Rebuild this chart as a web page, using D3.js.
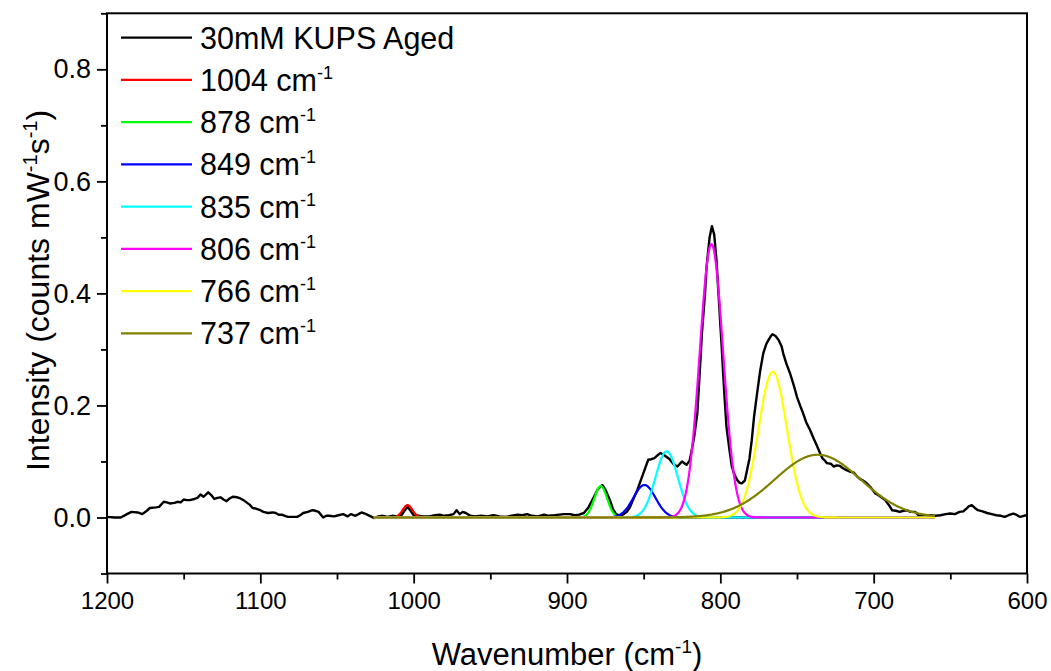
<!DOCTYPE html>
<html>
<head>
<meta charset="utf-8">
<script src="https://cdn.jsdelivr.net/npm/d3@7/dist/d3.min.js"></script>
<style>
  html, body { margin: 0; padding: 0; background: #fff; }
  svg text { font-family: "Liberation Sans", Arial, sans-serif; fill: #000; }
</style>
</head>
<body>
<svg id="chart" width="1051" height="671"></svg>
<script>
// Measured Raman spectrum: wavenumber (cm-1) and intensity (counts mW-1 s-1)
const specWn = [
  1200, 1195, 1191, 1187, 1184, 1180, 1177, 1174, 1172, 1168, 1166, 1163, 1161, 1159, 1156, 1154,
  1152, 1150, 1148, 1146, 1143, 1141, 1139, 1137, 1134, 1132, 1130, 1128, 1126, 1124, 1122, 1120,
  1118, 1115, 1113, 1111, 1109, 1107, 1105, 1103, 1100, 1098, 1095, 1092, 1090, 1088, 1086, 1084,
  1082, 1079, 1076, 1074, 1072, 1069, 1066, 1064, 1062, 1059, 1057, 1055, 1052, 1049, 1046, 1043,
  1041, 1038, 1036, 1034, 1031, 1028, 1026, 1023, 1020, 1017, 1014, 1011, 1008, 1006, 1004, 1002,
  1000, 997, 994, 990, 986, 983, 980, 977, 974, 972, 970, 968, 966, 963, 960, 956,
  952, 948, 944, 940, 936, 932, 929, 926, 923, 919, 915, 912, 908, 905, 902, 898,
  895, 892, 889, 886, 883, 880, 877, 875, 872, 870, 868, 865, 863, 861, 859, 857,
  854, 851, 849, 847, 845, 843, 841, 839, 837, 835, 833, 832, 830, 828, 826, 825,
  823, 822, 820, 819, 817, 815, 813, 812, 810, 809, 807, 805.5, 804, 802.5, 801, 799,
  797.5, 796, 794, 792.5, 791, 789, 787.5, 786, 784, 783, 781, 779.5, 778, 776, 774, 772,
  770, 768.5, 767, 766, 764, 762, 760, 759, 757, 754.5, 752, 750, 748, 746, 744, 741.5,
  739, 737, 735, 733.5, 732, 730.5, 728, 726, 724, 722, 720, 718, 715.5, 713, 711, 709,
  707, 704.5, 702, 699, 697, 695, 692.5, 690, 688, 685.5, 683, 680.5, 678.5, 676, 673, 670,
  667, 663, 660, 656.5, 653, 650, 647, 644, 641.5, 639.5, 638, 636, 634, 632, 629, 626,
  623, 620, 617, 614.5, 612, 609, 607, 604.5, 602, 600
];
const specI = [
  0.001, 0.000, 0.000, 0.006, 0.010, 0.009, 0.006, 0.012, 0.017, 0.018, 0.019, 0.028, 0.027, 0.025, 0.026, 0.028,
  0.027, 0.032, 0.031, 0.031, 0.033, 0.035, 0.041, 0.037, 0.045, 0.040, 0.033, 0.035, 0.036, 0.032, 0.029, 0.034,
  0.037, 0.036, 0.034, 0.031, 0.027, 0.023, 0.017, 0.016, 0.013, 0.010, 0.008, 0.009, 0.008, 0.005, 0.005, 0.003,
  0.001, 0.001, 0.001, 0.004, 0.008, 0.010, 0.013, 0.012, 0.010, 0.000, 0.003, 0.003, 0.002, 0.004, 0.006, 0.002,
  0.006, 0.003, 0.006, 0.009, 0.006, 0.002, -0.001, 0.002, 0.003, 0.001, 0.003, 0.002, 0.004, 0.012, 0.019, 0.012,
  0.004, 0.003, 0.002, 0.002, 0.004, 0.005, 0.003, 0.004, 0.006, 0.013, 0.006, 0.010, 0.008, 0.003, 0.002, 0.003,
  0.002, 0.004, 0.002, 0.001, 0.003, 0.005, 0.004, 0.006, 0.003, 0.002, 0.005, 0.003, 0.004, 0.005, 0.006, 0.006,
  0.004, 0.005, 0.008, 0.018, 0.034, 0.050, 0.058, 0.050, 0.031, 0.015, 0.006, 0.003, 0.006, 0.010, 0.018, 0.031,
  0.050, 0.073, 0.088, 0.103, 0.104, 0.106, 0.111, 0.115, 0.112, 0.108, 0.104, 0.100, 0.094, 0.091, 0.097, 0.100,
  0.096, 0.094, 0.102, 0.115, 0.145, 0.186, 0.280, 0.329, 0.400, 0.447, 0.500, 0.520, 0.505, 0.459, 0.390, 0.299,
  0.225, 0.162, 0.120, 0.091, 0.078, 0.067, 0.062, 0.061, 0.066, 0.079, 0.105, 0.138, 0.180, 0.222, 0.262, 0.293,
  0.310, 0.317, 0.324, 0.327, 0.324, 0.317, 0.305, 0.293, 0.275, 0.257, 0.235, 0.215, 0.200, 0.186, 0.170, 0.156,
  0.140, 0.128, 0.115, 0.106, 0.102, 0.097, 0.096, 0.091, 0.093, 0.092, 0.088, 0.085, 0.082, 0.080, 0.074, 0.069,
  0.066, 0.061, 0.054, 0.043, 0.040, 0.036, 0.031, 0.022, 0.013, 0.012, 0.010, 0.012, 0.013, 0.010, 0.010, 0.002,
  0.003, 0.004, 0.003, 0.004, 0.006, 0.007, 0.006, 0.010, 0.011, 0.016, 0.020, 0.022, 0.017, 0.013, 0.011, 0.008,
  0.006, 0.004, 0.003, 0.001, 0.004, 0.007, 0.005, 0.001, 0.003, 0.004
];

// Fitted Gaussian components: centre (cm-1), peak height, standard deviation (cm-1)
const peakCentres = [1004, 878, 849.5, 835, 805.8, 765.8, 736.5];
const peakHeights = [0.022, 0.056, 0.058, 0.118, 0.488, 0.260, 0.112];
const peakWidths  = [3.2, 4.2, 7.2, 7.3, 7.6, 9.3, 28];
const peakLabels  = ["1004", "878", "849", "835", "806", "766", "737"];
const peakColors  = ["#ff0000", "#00ff00", "#0000ff", "#00ffff", "#ff00ff", "#ffff00", "#808000"];
const fitRange = [1026, 660];

const seriesName = "30mM KUPS Aged";
const xTicks = [1200, 1100, 1000, 900, 800, 700, 600];
const yTicks = [0.0, 0.2, 0.4, 0.6, 0.8];

const svg = d3.select("#chart");
const plotL = 107, plotR = 1027, plotT = 13.3, plotB = 573.5;

const x = d3.scaleLinear().domain([1200, 600]).range([plotL, plotR]);
const y = d3.scaleLinear().domain([-0.1, 0.9]).range([plotB, plotT]);

const plot = svg.append("g");
plot.append("clipPath").attr("id", "clip")
  .append("rect").attr("x", plotL).attr("y", plotT).attr("width", plotR - plotL).attr("height", plotB - plotT);

const line = d3.line().x(d => x(d[0])).y(d => y(d[1]));

// measured spectrum
const spec = specWn.map((w, i) => [w, specI[i]]);
plot.append("path").datum(spec)
  .attr("clip-path", "url(#clip)")
  .attr("fill", "none").attr("stroke", "#000").attr("stroke-width", 2.4)
  .attr("stroke-linejoin", "round")
  .attr("d", line);

// fitted components sampled across the fit window
const fitWn = d3.range(fitRange[0], fitRange[1] - 0.01, -0.5);
peakCentres.forEach((c, k) => {
  const pts = fitWn.map(w => [w, peakHeights[k] * Math.exp(-0.5 * Math.pow((w - c) / peakWidths[k], 2))]);
  plot.append("path").datum(pts)
    .attr("fill", "none").attr("stroke", peakColors[k]).attr("stroke-width", 2.2)
    .attr("stroke-linejoin", "round")
    .attr("d", line);
});

// axes
const xAxis = d3.axisBottom(x).tickValues(xTicks).tickFormat(d3.format("d")).tickSize(10).tickPadding(8);
const xMinor = d3.axisBottom(x).tickValues(d3.range(1150, 600, -100)).tickFormat("").tickSize(6);
const yAxis = d3.axisLeft(y).tickValues(yTicks).tickFormat(d3.format(".1f")).tickSize(10).tickPadding(6);
const yMinor = d3.axisLeft(y).tickValues([-0.1, 0.1, 0.3, 0.5, 0.7, 0.9]).tickFormat("").tickSize(6);

function styleAxis(size) {
  return g => {
    g.select(".domain").remove();
    g.selectAll("line").attr("stroke", "#000").attr("stroke-width", 1.8);
    g.selectAll("text").attr("font-size", size).attr("font-family", "Liberation Sans, Arial, sans-serif");
  };
}
svg.append("g").attr("transform", `translate(0,${plotB})`).call(xAxis).call(styleAxis(24));
svg.append("g").attr("transform", `translate(0,${plotB})`).call(xMinor).call(styleAxis(24));
svg.append("g").attr("transform", `translate(${plotL},0)`).call(yAxis).call(styleAxis(27));
svg.append("g").attr("transform", `translate(${plotL},0)`).call(yMinor).call(styleAxis(27));

// frame
svg.append("rect").attr("x", plotL).attr("y", plotT).attr("width", plotR - plotL).attr("height", plotB - plotT)
  .attr("fill", "none").attr("stroke", "#000").attr("stroke-width", 2);

// axis titles
const xt = svg.append("text").attr("x", (plotL + plotR) / 2).attr("y", 665)
  .attr("text-anchor", "middle").attr("font-size", 31);
xt.append("tspan").text("Wavenumber (cm");
xt.append("tspan").attr("font-size", 19).attr("dy", -12).text("-1");
xt.append("tspan").attr("dy", 12).text(")");

const yt = svg.append("text").attr("transform", `translate(49,${(plotT + plotB) / 2 - 3}) rotate(-90)`)
  .attr("text-anchor", "middle").attr("font-size", 32);
yt.append("tspan").text("Intensity (counts mW");
yt.append("tspan").attr("font-size", 20).attr("dy", -12).text("-1");
yt.append("tspan").attr("dy", 12).text("s");
yt.append("tspan").attr("font-size", 20).attr("dy", -12).text("-1");
yt.append("tspan").attr("dy", 12).text(")");

// legend
const legend = svg.append("g");
const legendRows = [{ label: seriesName, color: "#000", sup: false }]
  .concat(peakLabels.map((l, i) => ({ label: l + " cm", color: peakColors[i], sup: true })));
legendRows.forEach((r, i) => {
  const ly = 37.7 + i * 42.25;
  legend.append("line").attr("x1", 121).attr("x2", 192).attr("y1", ly).attr("y2", ly)
    .attr("stroke", r.color).attr("stroke-width", 2.2);
  const t = legend.append("text").attr("x", 200).attr("y", ly + 11).attr("font-size", 30.5);
  t.append("tspan").text(r.label);
  if (r.sup) t.append("tspan").attr("font-size", 18).attr("dy", -12).text("-1");
});
</script>
</body>
</html>
